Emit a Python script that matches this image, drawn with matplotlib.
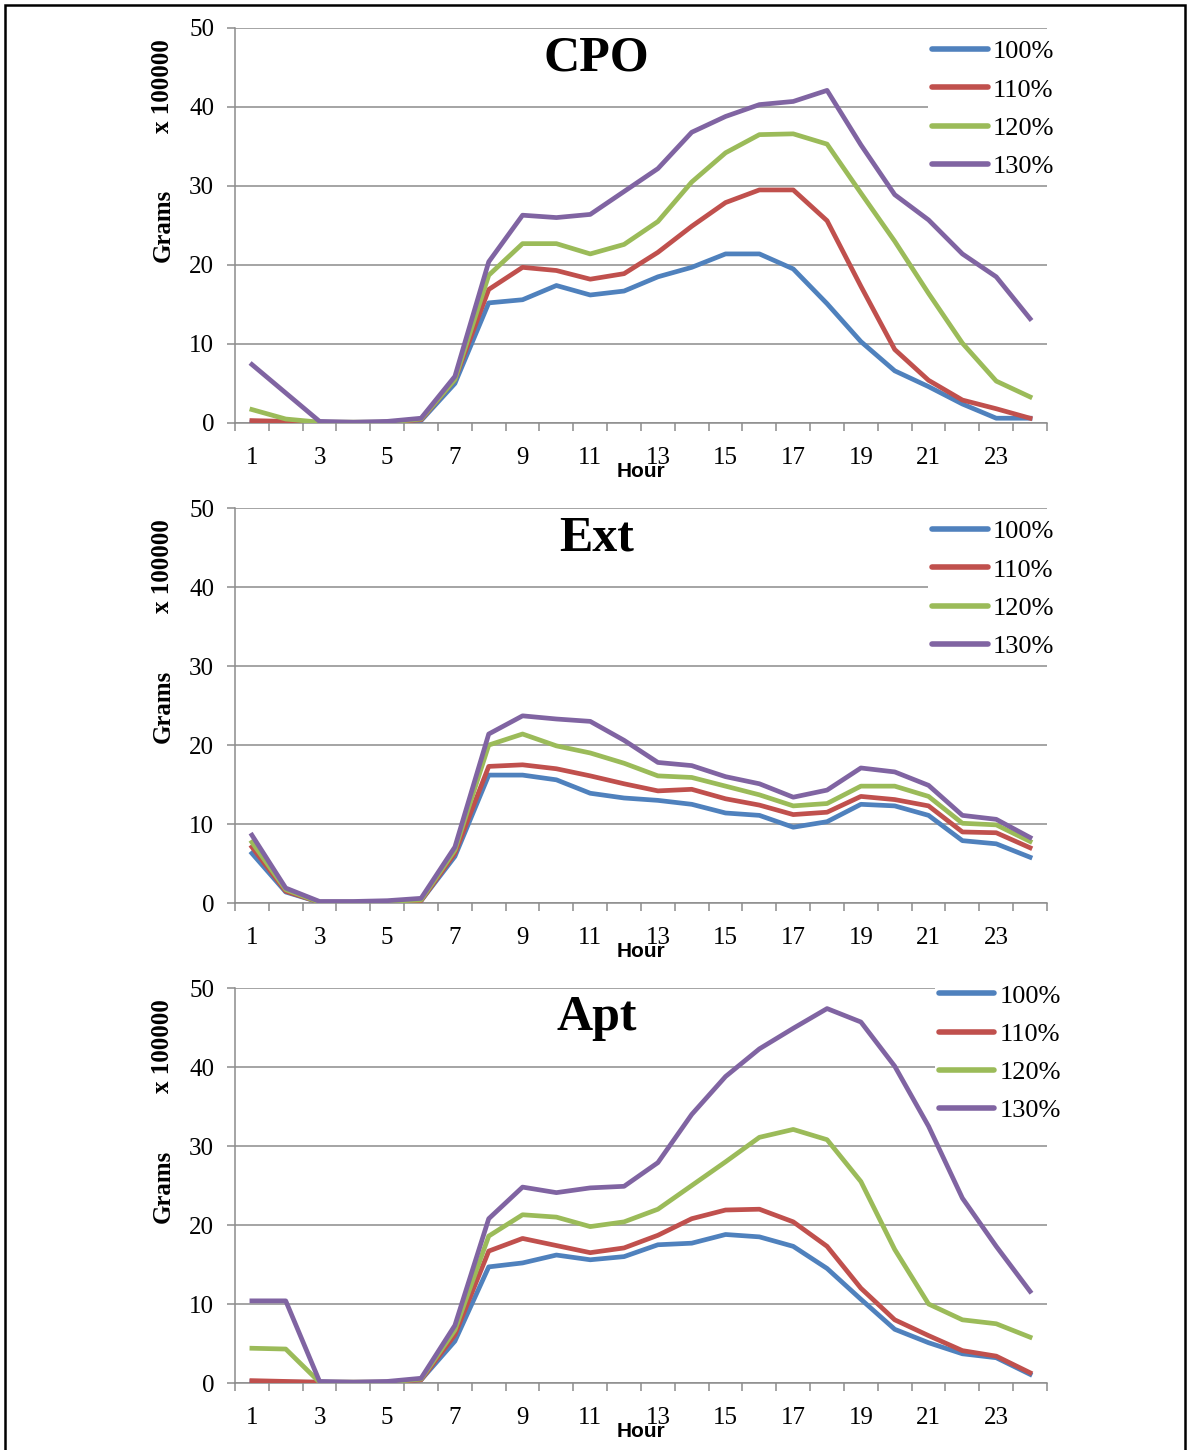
import numpy as np
import matplotlib
matplotlib.use('Agg')
from matplotlib import pyplot as plt
from matplotlib.patches import Rectangle

hours = np.arange(1, 25)
labels = ['100%', '110%', '120%', '130%']
colors = ['#4F81BD', '#C0504D', '#9BBB59', '#8064A2']

# emissions, grams x 100000
cpo_100 = [0.1, 0.0, 0.0, 0.0, 0.1, 0.3, 5.0, 15.2, 15.6, 17.4, 16.2, 16.7,
           18.5, 19.7, 21.4, 21.4, 19.5, 15.1, 10.3, 6.6, 4.6, 2.4, 0.6, 0.6]
cpo_110 = [0.3, 0.2, 0.05, 0.0, 0.1, 0.4, 5.5, 16.9, 19.7, 19.3, 18.2, 18.9,
           21.6, 24.9, 27.9, 29.5, 29.5, 25.6, 17.3, 9.3, 5.4, 2.9, 1.8, 0.6]
cpo_120 = [1.7, 0.5, 0.1, 0.1, 0.1, 0.5, 5.5, 18.7, 22.7, 22.7, 21.4, 22.6,
           25.5, 30.5, 34.2, 36.5, 36.6, 35.3, 29.1, 23.0, 16.4, 10.1, 5.3, 3.3]
cpo_130 = [7.4, 3.8, 0.2, 0.1, 0.2, 0.6, 5.9, 20.4, 26.3, 26.0, 26.4, 29.3,
           32.2, 36.8, 38.8, 40.3, 40.7, 42.1, 35.2, 28.9, 25.7, 21.4, 18.5, 13.2]

ext_100 = [6.3, 1.4, 0.1, 0.1, 0.1, 0.3, 5.9, 16.2, 16.2, 15.6, 13.9, 13.3,
           13.0, 12.5, 11.4, 11.1, 9.6, 10.3, 12.5, 12.3, 11.1, 7.9, 7.5, 5.8]
ext_110 = [7.1, 1.5, 0.1, 0.1, 0.1, 0.3, 6.3, 17.3, 17.5, 17.0, 16.1, 15.1,
           14.2, 14.4, 13.2, 12.4, 11.2, 11.5, 13.5, 13.1, 12.3, 9.0, 8.9, 7.0]
ext_120 = [7.7, 1.7, 0.1, 0.1, 0.2, 0.4, 6.7, 20.0, 21.4, 19.9, 19.0, 17.7,
           16.1, 15.9, 14.8, 13.7, 12.3, 12.6, 14.8, 14.8, 13.5, 10.1, 9.9, 7.8]
ext_130 = [8.6, 1.9, 0.2, 0.2, 0.3, 0.6, 7.1, 21.4, 23.7, 23.3, 23.0, 20.6,
           17.8, 17.4, 16.0, 15.1, 13.4, 14.3, 17.1, 16.6, 14.9, 11.1, 10.6, 8.3]

apt_100 = [0.2, 0.1, 0.1, 0.1, 0.1, 0.4, 5.3, 14.7, 15.2, 16.2, 15.6, 16.0,
           17.5, 17.7, 18.8, 18.5, 17.3, 14.5, 10.6, 6.8, 5.1, 3.7, 3.2, 1.1]
apt_110 = [0.3, 0.2, 0.1, 0.1, 0.1, 0.4, 6.1, 16.7, 18.3, 17.4, 16.5, 17.1,
           18.7, 20.8, 21.9, 22.0, 20.4, 17.3, 12.0, 8.0, 6.0, 4.1, 3.4, 1.3]
apt_120 = [4.4, 4.3, 0.1, 0.1, 0.1, 0.5, 6.7, 18.6, 21.3, 21.0, 19.8, 20.4,
           22.0, 25.0, 28.0, 31.1, 32.1, 30.8, 25.5, 16.9, 10.0, 8.0, 7.5, 5.8]
apt_130 = [10.4, 10.4, 0.2, 0.1, 0.2, 0.6, 7.3, 20.8, 24.8, 24.1, 24.7, 24.9,
           27.9, 34.0, 38.8, 42.3, 44.9, 47.4, 45.7, 40.1, 32.5, 23.4, 17.3, 11.6]

panels = [
    ('CPO', [cpo_100, cpo_110, cpo_120, cpo_130], 0.7083, (0.854, 0.98)),
    ('Ext', [ext_100, ext_110, ext_120, ext_130], 0.3772, (0.854, 0.98)),
    ('Apt', [apt_100, apt_110, apt_120, apt_130], 0.0462, (0.862, 1.02)),
]

serif = 'Liberation Serif'
grid_col = '#8C8C8C'

fig = plt.figure(figsize=(11.88, 14.5), dpi=100)
fig.patches.append(Rectangle((5 / 1188, -0.01), 1180 / 1188, 1 - 5 / 1450 + 0.01,
                             transform=fig.transFigure, fill=False,
                             edgecolor='black', linewidth=1.8))

for title, series, bottom, leg_anchor in panels:
    ax = fig.add_axes([0.1978, bottom, 0.6835, 0.2724])
    for vals, lab, col in zip(series, labels, colors):
        ax.plot(hours, vals, color=col, linewidth=3.4, label=lab, zorder=3)

    ax.set_xlim(0.5, 24.5)
    ax.set_ylim(0, 50)

    ax.set_yticks(np.arange(0, 51, 10))
    ax.yaxis.grid(True, color=grid_col, linewidth=1.1)
    ax.set_axisbelow(True)
    ax.tick_params(axis='y', direction='out', length=6, width=1.1, color=grid_col,
                   pad=9, labelsize=18, labelfontfamily=serif)

    ax.set_xticks(np.arange(0.5, 24.6, 1))
    ax.set_xticklabels([])
    ax.set_xticks(hours[::2], minor=True)
    ax.set_xticklabels([str(h) for h in hours[::2]], minor=True)
    ax.tick_params(axis='x', which='major', direction='out', length=6, width=1.1,
                   color=grid_col)
    ax.tick_params(axis='x', which='minor', length=0, pad=17, labelsize=18,
                   labelfontfamily=serif)

    for s in ['top', 'right']:
        ax.spines[s].set_visible(False)
    for s in ['left', 'bottom']:
        ax.spines[s].set_color(grid_col)
        ax.spines[s].set_linewidth(1.1)

    ax.text(0.445, 0.924, title, transform=ax.transAxes, ha='center', va='center',
            fontsize=36, fontweight='bold', family=serif)
    # in the original the axis title sits over the "13" label
    ax.text(0.5, -0.122, 'Hour', transform=ax.transAxes, ha='center', va='center',
            fontsize=15, fontweight='bold', family='Liberation Sans')
    ax.text(-0.0887, 0.499, 'Grams', transform=ax.transAxes, ha='center', va='center',
            rotation=90, fontsize=18, fontweight='bold', family=serif)
    ax.text(-0.0887, 0.853, 'x 100000', transform=ax.transAxes, ha='center', va='center',
            rotation=90, fontsize=18, fontweight='bold', family=serif)

    leg = ax.legend(loc='upper left', bbox_to_anchor=leg_anchor, frameon=True,
                    fancybox=False, framealpha=1, edgecolor='none',
                    prop={'family': serif, 'size': 19}, handlelength=2.1,
                    handletextpad=0.2, labelspacing=0.56, borderpad=0.15,
                    borderaxespad=0)
    for h in leg.get_lines():
        h.set_linewidth(4)
        h.set_solid_capstyle('round')

fig.savefig('out.png', dpi=100)
